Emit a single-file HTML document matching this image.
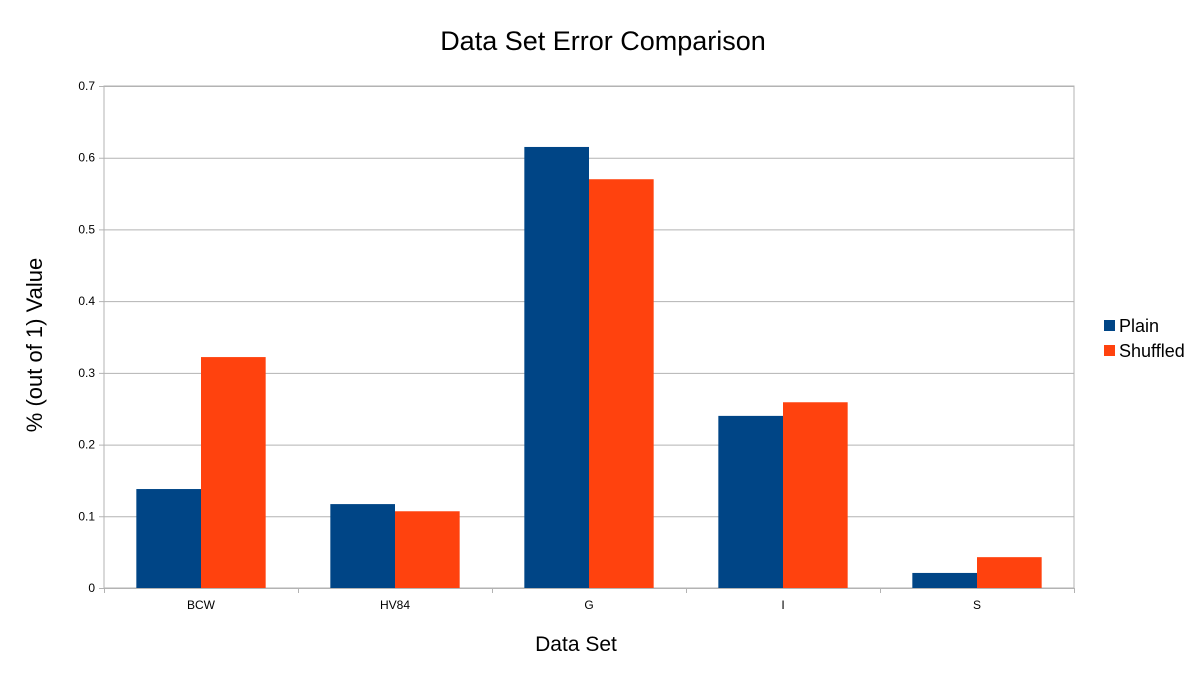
<!DOCTYPE html>
<html><head><meta charset="utf-8">
<style>
html,body{margin:0;padding:0;background:#fff;}
body{width:1204px;height:678px;overflow:hidden;font-family:"Liberation Sans",sans-serif;}
</style></head>
<body>
<svg id="chart" width="1204" height="678" xmlns="http://www.w3.org/2000/svg" font-family="Liberation Sans, sans-serif">
<rect width="1204" height="678" fill="#fff"/>
<text x="603" y="50" font-size="27" text-anchor="middle" fill="#000">Data Set Error Comparison</text>
<text x="576" y="651" font-size="21" text-anchor="middle" fill="#000">Data Set</text>
<text transform="translate(42,345) rotate(-90)" font-size="22" text-anchor="middle" fill="#000">% (out of 1) Value</text>
<g id="grid"></g>
<g id="bars"></g>
<g id="axes"></g>
<g>
<rect x="1104" y="320" width="11" height="11" fill="#004586"/>
<text x="1119" y="332" font-size="18">Plain</text>
<rect x="1104" y="345" width="11" height="11" fill="#ff420e"/>
<text x="1119" y="357" font-size="18">Shuffled</text>
</g>
</svg>
<script>
const categories = ["BCW","HV84","G","I","S"];
const plainValues = [0.138,0.117,0.615,0.240,0.021];
const shuffledValues = [0.322,0.107,0.570,0.259,0.043];
const yTicks = [0,0.1,0.2,0.3,0.4,0.5,0.6,0.7];

const NS="http://www.w3.org/2000/svg";
const L=104,R=1074,T=86,B=588,yMax=0.7;
const y=v=>B-(v/yMax)*(B-T);
const bandW=(R-L)/categories.length;
const x=i=>L+i*bandW;
const barW=bandW/3;
function mk(tag,attrs,parent){const e=document.createElementNS(NS,tag);for(const k in attrs)e.setAttribute(k,attrs[k]);parent.appendChild(e);return e;}
const grid=document.getElementById('grid'),bars=document.getElementById('bars'),axes=document.getElementById('axes');
mk('rect',{x:L,y:T,width:R-L,height:B-T,fill:'none',stroke:'#b3b3b3','stroke-width':1},grid);
yTicks.forEach(t=>{
  const gl=mk('line',{x1:L-5,x2:R,y1:y(t)+0.5,y2:y(t)+0.5,stroke:'#b3b3b3','stroke-width':1},grid);
  
  
  const tx=mk('text',{x:L-9,y:y(t)+4,'font-size':12,'text-anchor':'end',fill:'#000'},axes);
  tx.textContent=String(t);
  
  
});
categories.forEach((c,i)=>{
  const tk=mk('line',{x1:x(i)+0.5,x2:x(i)+0.5,y1:B,y2:B+5,stroke:'#b3b3b3'},axes);
  
  
  const p=mk('rect',{x:x(i)+bandW/6,y:y(plainValues[i]),width:barW,height:B-y(plainValues[i]),fill:'#004586'},bars);
  
  
  const s=mk('rect',{x:x(i)+bandW/2,y:y(shuffledValues[i]),width:barW,height:B-y(shuffledValues[i]),fill:'#ff420e'},bars);
  
  
  const lb=mk('text',{x:x(i)+bandW/2,y:B+21,'font-size':12,'text-anchor':'middle',fill:'#000'},axes);
  lb.textContent=c;
  
  
});
const tkEnd=mk('line',{x1:R+0.5,x2:R+0.5,y1:B,y2:B+5,stroke:'#b3b3b3'},axes);


</script>
</body></html>
